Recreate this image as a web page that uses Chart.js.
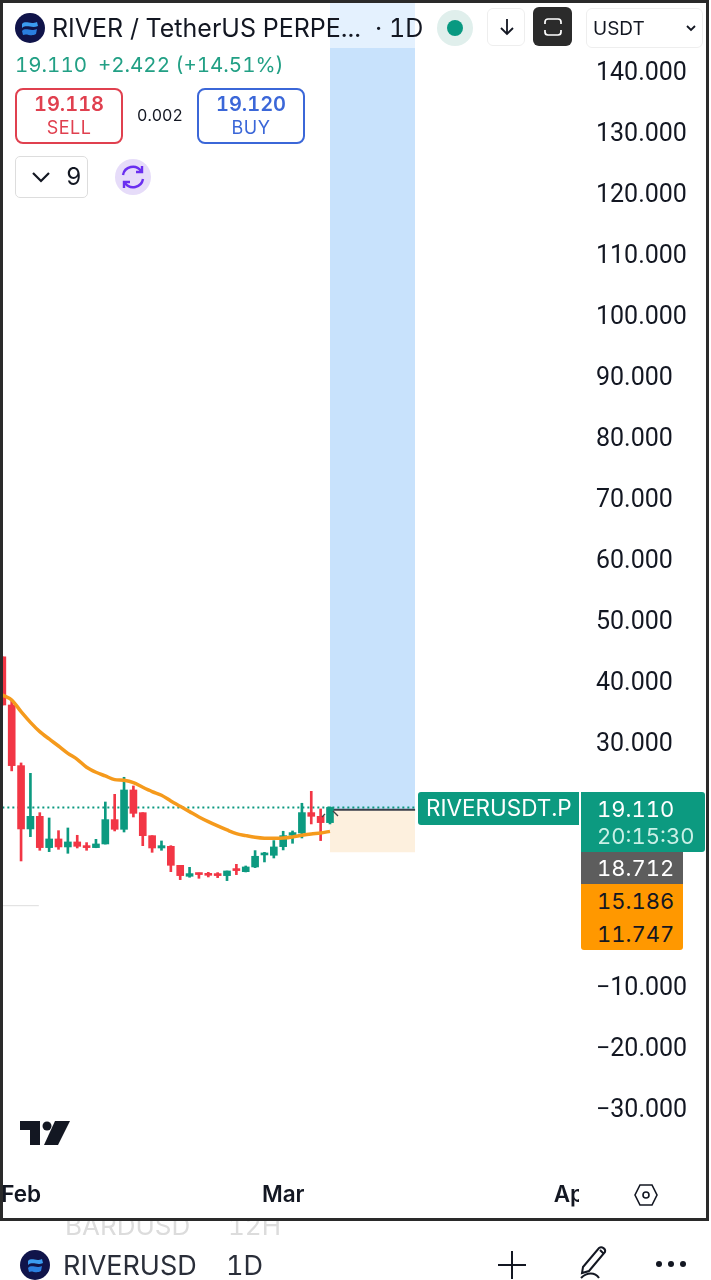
<!DOCTYPE html>
<html>
<head>
<meta charset="utf-8">
<title>RIVERUSDT.P 1D</title>
<script src="https://cdn.jsdelivr.net/npm/chart.js@4"></script>
<style>
  html, body { margin: 0; padding: 0; background: #fff; }
  body { width: 711px; height: 1280px; position: relative; overflow: hidden; font-family: Inter, "Noto Sans", sans-serif; color: #131722; font-variant-numeric: tabular-nums; }
  canvas { position: absolute; left: 0; top: 0; }
  .t { position: absolute; white-space: nowrap; line-height: 1; }
  .box { position: absolute; box-sizing: border-box; }
  svg { position: absolute; overflow: visible; }
</style>
</head>
<body>
<canvas id="chart" width="711" height="1220"></canvas>

<!-- header -->
<div class="box" style="left:329px;top:3px;width:86px;height:45px;background:rgba(255,255,255,.5)"></div>
<svg style="left:15px;top:13px" width="30" height="30" viewBox="0 0 30 30">
  <circle cx="15" cy="15" r="15" fill="#10144a"/>
  <path d="M7 11c4-4 8 1 15-2l1 4c-6 3-11-2-16 2z" fill="#3b9cf0"/>
  <path d="M7 18c4-4 8 1 15-2l-1 5c-5 3-9-1-13 1z" fill="#2a7fe0"/>
</svg>
<div class="t" style="left:52px;top:16px;font-size:25px">RIVER / TetherUS PERPE...</div>
<div class="t" style="left:375px;top:16px;font-size:25px">· 1D</div>
<svg style="left:437px;top:10px" width="36" height="36"><circle cx="18" cy="18" r="18" fill="#e0efec"/><circle cx="18" cy="18" r="8" fill="#089981"/></svg>
<div class="box" style="left:487px;top:8px;width:38px;height:38px;border:1px solid #eee;border-radius:6px"></div>
<svg style="left:497px;top:17px" width="20" height="20" fill="none" stroke="#131722" stroke-width="1.8"><path d="M10 2v15M4 11l6 6 6-6"/></svg>
<div class="box" style="left:533px;top:7px;width:39px;height:39px;background:#2b2b2b;border-radius:6px"></div>
<svg style="left:544px;top:18px" width="18" height="18" fill="none" stroke="#fff" stroke-width="1.7"><path d="M1 6V4a3 3 0 0 1 3-3h10a3 3 0 0 1 3 3v2M1 12v2a3 3 0 0 0 3 3h10a3 3 0 0 0 3-3v-2"/></svg>
<div class="box" style="left:586px;top:8px;width:117px;height:40px;border:1px solid #eee;border-radius:6px"></div>
<div class="t" style="left:593px;top:19px;font-size:19px">USDT</div>
<svg style="left:686px;top:25px" width="10" height="6" fill="none" stroke="#131722" stroke-width="1.8"><path d="M1 1l4 4 4-4"/></svg>

<div class="t" style="left:15px;top:55px;font-size:20.5px;color:#22a085">19.110&nbsp; +2.422 (+14.51%)</div>

<div class="box" style="left:15px;top:88px;width:108px;height:56px;border:2px solid #e0404f;border-radius:8px"></div>
<div class="t" style="left:15px;width:108px;text-align:center;top:94px;font-size:20px;font-weight:600;color:#e0404f">19.118</div>
<div class="t" style="left:15px;width:108px;text-align:center;top:119px;font-size:18px;letter-spacing:.5px;color:#e0404f">SELL</div>
<div class="t" style="left:137px;top:107px;font-size:16px">0.002</div>
<div class="box" style="left:197px;top:88px;width:108px;height:56px;border:2px solid #3b67d8;border-radius:8px"></div>
<div class="t" style="left:197px;width:108px;text-align:center;top:94px;font-size:20px;font-weight:600;color:#3b67d8">19.120</div>
<div class="t" style="left:197px;width:108px;text-align:center;top:119px;font-size:18px;letter-spacing:.5px;color:#3b67d8">BUY</div>

<div class="box" style="left:15px;top:156px;width:73px;height:42px;border:1.5px solid #ddd;border-radius:5px"></div>
<svg style="left:32px;top:172px" width="18" height="11" fill="none" stroke="#131722" stroke-width="2.2"><path d="M1 1l8 8 8-8"/></svg>
<div class="t" style="left:66px;top:165px;font-size:24px">9</div>
<svg style="left:115px;top:159px" width="36" height="36" fill="none" stroke="#6a2ff0" stroke-width="2.4">
  <circle cx="18" cy="18" r="18" fill="#e6dcf9" stroke="none"/>
  <path d="M8 16a10 10 0 0 1 18-4M28 20a10 10 0 0 1-18 4"/>
  <path d="M27 7v6h-6M9 29v-6h6"/>
</svg>

<!-- price labels -->
<div class="box" style="left:418px;top:792px;width:161px;height:33px;background:#0c9a80;border-radius:3px 0 0 3px"></div>
<div class="t" style="left:426px;top:797px;font-size:22.5px;color:#fff">RIVERUSDT.P</div>
<div class="box" style="left:581px;top:792px;width:124px;height:60px;background:#0c9a80;border-radius:0 3px 3px 0"></div>
<div class="t" style="left:597px;top:798px;font-size:22px;color:#fff">19.110</div>
<div class="t" style="left:597px;top:825px;font-size:22px;color:#c9f0e6">20:15:30</div>
<div class="box" style="left:581px;top:852px;width:102px;height:32px;background:#5d5d5d"></div>
<div class="t" style="left:597px;top:857px;font-size:22px;color:#fff">18.712</div>
<div class="box" style="left:581px;top:884px;width:102px;height:66px;background:#ff9800;border-radius:0 0 3px 3px"></div>
<div class="t" style="left:597px;top:890px;font-size:22px">15.186</div>
<div class="t" style="left:597px;top:923px;font-size:22px">11.747</div>

<!-- position tool arrows -->
<svg style="left:322px;top:811px" width="22" height="12" fill="none" stroke="#444" stroke-width="1.4"><path d="M0 6l3-3M11 0l5 5"/></svg>

<!-- logo -->
<svg style="left:20px;top:1120px" width="50" height="25" fill="#131722">
  <path d="M0 1h20v24h-10V10H0z"/><circle cx="27" cy="6" r="4.5"/><path d="M35 1h15L38 25H24z"/>
</svg>

<!-- bottom of time axis -->
<div class="box" style="left:579px;top:1176px;width:128px;height:42px;background:#fff"></div>
<svg style="left:634px;top:1183px" width="24" height="24" fill="none" stroke="#131722" stroke-width="1.6">
  <path d="M6 2h12l5 10-5 10H6L1 12z"/><circle cx="12" cy="12" r="3"/>
</svg>

<!-- frame -->
<div class="box" style="left:0;top:0;width:709px;height:1221px;border:3px solid #2a2a2a"></div>

<!-- toolbar under the chart -->
<div class="t" style="left:65px;top:1221px;font-size:26px;height:14px;overflow:hidden;color:#dcdcdc;line-height:10px">BARDUSD</div>
<div class="t" style="left:228px;top:1221px;font-size:26px;height:14px;overflow:hidden;color:#dcdcdc;line-height:10px">12H</div>
<svg style="left:20px;top:1250px" width="30" height="30" viewBox="0 0 30 30">
  <circle cx="15" cy="15" r="15" fill="#10144a"/>
  <path d="M8 11c4-4 8 1 14-2l1 4c-6 3-10-2-15 2z" fill="#3b9cf0"/>
  <path d="M8 18c4-4 8 1 14-2l-1 5c-5 3-9-1-12 1z" fill="#2a7fe0"/>
</svg>
<div class="t" style="left:63px;top:1252px;font-size:27px;width:133px;overflow:hidden;color:#2a2e39">RIVERUSDT.P</div>
<div class="t" style="left:226px;top:1252px;font-size:27px;color:#2a2e39">1D</div>
<svg style="left:497px;top:1250px" width="30" height="30" stroke="#131722" stroke-width="2"><path d="M15 1v28M1 15h28"/></svg>
<svg style="left:577px;top:1245px" width="36" height="35" fill="none" stroke="#131722" stroke-width="2">
  <path d="M6 22L22 3c3-2 7 1 6 4L12 26l-7 2zM23 5l4 4"/><path d="M4 33c6-6 14-6 18 0"/>
</svg>
<svg style="left:655px;top:1259px" width="32" height="10" fill="#131722"><circle cx="4" cy="5" r="3"/><circle cx="16" cy="5" r="3"/><circle cx="28" cy="5" r="3"/></svg>

<script>
// ---------------- Candles, oldest first (30 Jan to 6 Mar) ----------------
const opens  = [43.8, 35.9, 25.96, 15.58, 17.65, 12.52, 13.94, 12.63, 13.45, 12.84, 12.52, 13.12, 17.11, 15.52, 21.97, 18.25, 14.48, 12.46, 12.73, 9.62, 7.82, 8.26, 8.15, 8.1, 7.93, 8.97, 8.58, 9.35, 11.32, 11.26, 12.68, 14.54, 14.92, 18.26, 17.65, 16.62];
const closes = [35.9, 25.96, 15.58, 17.65, 12.52, 13.94, 12.63, 13.45, 12.73, 12.52, 13.12, 17.11, 15.52, 21.97, 18.14, 14.48, 12.46, 12.84, 9.62, 7.93, 8.26, 8.1, 7.98, 7.93, 8.69, 8.75, 9.35, 11.1, 11.53, 12.63, 14.48, 14.98, 18.26, 17.65, 16.62, 19.11];
const highs  = [43.8, 36.8, 26.4, 24.7, 18.25, 17.38, 15.3, 15.74, 14.54, 13.34, 13.88, 20.0, 21.26, 24.05, 22.63, 18.25, 14.48, 13.61, 12.84, 9.62, 9.29, 8.36, 8.47, 8.42, 8.69, 9.78, 9.51, 12.03, 11.75, 13.67, 15.2, 15.25, 19.79, 21.75, 18.86, 19.2];
const lows   = [35.9, 25.1, 10.33, 14.32, 12.08, 11.86, 12.24, 11.59, 12.46, 12.08, 12.5, 13.1, 15.25, 15.08, 17.54, 12.84, 11.75, 12.08, 8.58, 7.27, 7.66, 7.49, 7.71, 7.6, 7.11, 8.09, 8.53, 9.24, 10.17, 10.82, 12.14, 13.23, 14.1, 16.4, 13.67, 16.4];

// ---------------- Moving average ----------------
const emaValues = [37.54, 36.72, 34.81, 33.06, 31.53, 30.33, 29.18, 27.98, 27.0, 25.69, 24.87, 24.27, 23.66, 23.55, 23.17, 22.41, 21.7, 21.1, 20.17, 19.29, 18.42, 17.55, 16.78, 16.07, 15.41, 14.81, 14.49, 14.21, 14.05, 14.05, 14.1, 14.27, 14.54, 14.76, 14.92, 15.186];

// ---------------- Levels and axis labels ----------------
const lastPrice = 19.11;
const entryPrice = 18.712;
const stopPrice = 11.747;
const targetPrice = 152;
const toolDays = [35, 44.09];
const faintLevel = 3;
const faintDays = [0, 3.9];
const yTicks = [140, 130, 120, 110, 100, 90, 80, 70, 60, 50, 40, 30, 20, 10, 0, -10, -20, -30];
const monthDays = [2, 30, 61];
const monthNames = ["Feb", "Mar", "Apr"];

const UP = "#0c9a80";
const DOWN = "#f23645";
const candleColors = opens.map((o, i) => (closes[i] >= o ? UP : DOWN));

function flatLine(days, value) {
  return days.map((d) => ({ x: d, y: value }));
}

// labels may run past the plot edge, so the scales must not reserve room for them
function noPadding(axis) {
  axis.paddingLeft = 0;
  axis.paddingRight = 0;
  axis.paddingTop = 0;
  axis.paddingBottom = 0;
}

new Chart(document.getElementById("chart"), {
  type: "bar",
  data: {
    datasets: [
      {
        type: "line", order: 9, data: flatLine(toolDays, targetPrice),
        fill: { value: entryPrice }, backgroundColor: "#c8e2fc", borderWidth: 0, pointRadius: 0,
      },
      {
        type: "line", order: 9, data: flatLine(toolDays, stopPrice),
        fill: { value: entryPrice }, backgroundColor: "#fdf0de", borderWidth: 0, pointRadius: 0,
      },
      {
        type: "line", order: 8, data: flatLine(faintDays, faintLevel),
        borderColor: "#dddddd", borderWidth: 1, pointRadius: 0,
      },
      {
        type: "line", order: 7, data: flatLine(toolDays, entryPrice),
        borderColor: "#3a3f4a", borderWidth: 2, pointRadius: 0,
      },
      {
        type: "line", order: 6, data: flatLine([0, toolDays[1]], lastPrice),
        borderColor: UP, borderWidth: 2, borderDash: [2, 3], pointRadius: 0,
      },
      {
        order: 5, grouped: false, barThickness: 2,
        data: highs.map((h, i) => ({ x: i, y: [lows[i], h] })),
        backgroundColor: candleColors,
      },
      {
        order: 4, grouped: false, barThickness: 7, minBarLength: 2,
        data: opens.map((o, i) => ({ x: i, y: [o, closes[i]] })),
        backgroundColor: candleColors,
      },
      {
        type: "line", order: 1, data: emaValues.map((v, i) => ({ x: i, y: v })),
        borderColor: "#f59a1c", borderWidth: 3.5, pointRadius: 0, tension: 0.3,
      },
    ],
  },
  options: {
    responsive: false,
    animation: false,
    layout: { autoPadding: false, padding: 0 },
    plugins: { legend: { display: false }, tooltip: { enabled: false } },
    scales: {
      x: {
        type: "linear",
        offset: false,
        min: -0.25,
        max: 61.6,
        grid: { display: false, drawTicks: false },
        border: { display: false },
        afterBuildTicks: (axis) => { axis.ticks = monthDays.map((d) => ({ value: d })); },
        afterFit: (axis) => { axis.height = 45; noPadding(axis); },
        ticks: {
          autoSkip: false,
          maxRotation: 0,
          padding: 7,
          color: "#131722",
          font: { family: "Inter", size: 22.5, weight: "600" },
          callback: (v) => monthNames[monthDays.indexOf(v)],
        },
      },
      y: {
        position: "right",
        min: -41.15,
        max: 151.475,
        grid: { display: false, drawTicks: false },
        border: { display: false },
        afterBuildTicks: (axis) => { axis.ticks = yTicks.map((v) => ({ value: v })); },
        afterFit: (axis) => { axis.width = 132; noPadding(axis); },
        ticks: {
          autoSkip: false,
          padding: 17,
          labelOffset: 4,
          color: "#131722",
          font: { family: "Roboto", size: 25 },
          callback: (v) => v.toFixed(3).replace("-", "\u2212"),
        },
      },
    },
  },
});
</script>
</body>
</html>
